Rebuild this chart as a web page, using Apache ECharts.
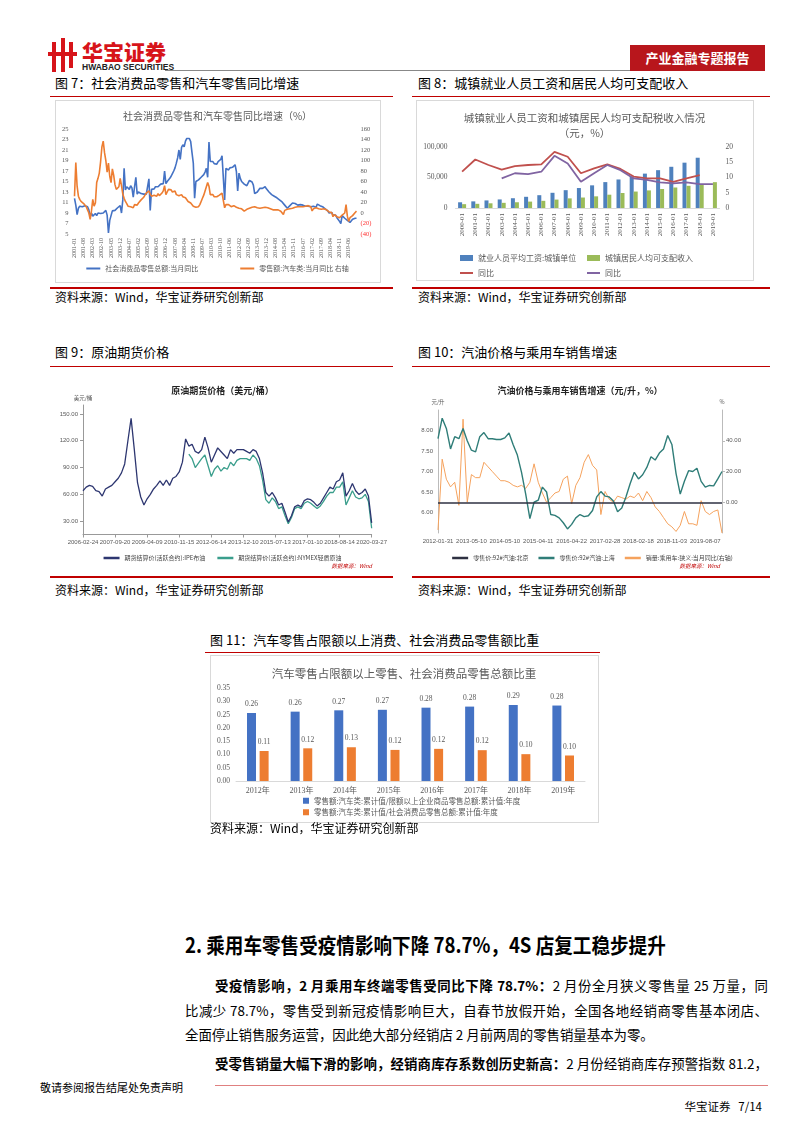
<!DOCTYPE html>
<html><head><meta charset="utf-8">
<script src="https://cdn.jsdelivr.net/npm/echarts@6/dist/echarts.min.js"></script>
<style>
body{margin:0;width:802px;height:1133px;position:relative;background:#fff;font-family:"Noto Sans CJK SC",sans-serif;overflow:hidden;color:#000}
.a{position:absolute;white-space:nowrap}
.ft{font-size:13px;line-height:16px}
.rl{position:absolute;height:1px;background:#c00000}
.rl2{position:absolute;height:2px;background:#c00000}
.src{font-size:12px;line-height:14px}
.box{position:absolute;border:1px solid #d9d9d9;box-sizing:border-box}
.ch{position:absolute}
.p{position:absolute;font-size:13.4px;line-height:20px;white-space:nowrap}
.j{text-align:justify;text-align-last:justify;white-space:normal;height:20px;overflow:visible}
</style></head><body>
<!-- header -->
<div class="a" style="left:52px;top:42px;width:4px;height:30px;background:#d7141a"></div>
<div class="a" style="left:61px;top:38px;width:4px;height:34px;background:#d7141a"></div>
<div class="a" style="left:69px;top:42px;width:4px;height:26px;background:#d7141a"></div>
<div class="a" style="left:48px;top:52px;width:29px;height:4px;background:#d7141a"></div>
<div class="a" style="left:82px;top:38px;font-size:21px;font-weight:900;color:#d7141a;line-height:26px">华宝证券</div>
<div class="a" style="left:82px;top:62px;font-size:8.5px;font-weight:700;color:#222;font-family:'Liberation Sans',sans-serif;line-height:10px">HWABAO SECURITIES</div>
<div class="a" style="left:165px;top:70px;width:465px;height:1px;background:#888"></div>
<div class="a" style="left:630px;top:45px;width:135px;height:26px;background:#b8161c;color:#fff;font-size:13px;font-weight:700;line-height:26px;text-align:center">产业金融专题报告</div>

<!-- row 1 titles -->
<div class="a ft" style="left:55px;top:75px">图 7：社会消费品零售和汽车零售同比增速</div>
<div class="rl" style="left:50px;top:96px;width:343px"></div>
<div class="a ft" style="left:418px;top:75px">图 8：城镇就业人员工资和居民人均可支配收入</div>
<div class="rl" style="left:412px;top:96px;width:358px"></div>
<div class="box" style="left:55px;top:100px;width:326px;height:183px"></div>
<div class="box" style="left:416px;top:100px;width:338px;height:181px"></div>
<div id="c7" class="ch" style="left:55px;top:100px;width:325px;height:182px"></div>
<div id="c8" class="ch" style="left:416px;top:100px;width:337px;height:180px"></div>
<div class="rl2" style="left:50px;top:287px;width:343px"></div>
<div class="rl2" style="left:412px;top:287px;width:358px"></div>
<div class="a src" style="left:55px;top:290px">资料来源：Wind，华宝证券研究创新部</div>
<div class="a src" style="left:418px;top:290px">资料来源：Wind，华宝证券研究创新部</div>

<!-- row 2 -->
<div class="a ft" style="left:55px;top:344px">图 9：原油期货价格</div>
<div class="rl" style="left:50px;top:366px;width:343px"></div>
<div class="a ft" style="left:418px;top:344px">图 10：汽油价格与乘用车销售增速</div>
<div class="rl" style="left:412px;top:366px;width:358px"></div>
<div id="c9" class="ch" style="left:55px;top:370px;width:335px;height:205px"></div>
<div id="c10" class="ch" style="left:415px;top:370px;width:355px;height:205px"></div>
<div class="rl2" style="left:50px;top:576px;width:343px"></div>
<div class="rl2" style="left:412px;top:576px;width:358px"></div>
<div class="a src" style="left:55px;top:583px">资料来源：Wind，华宝证券研究创新部</div>
<div class="a src" style="left:418px;top:583px">资料来源：Wind，华宝证券研究创新部</div>

<!-- row 3 -->
<div class="a ft" style="left:210px;top:632px">图 11：汽车零售占限额以上消费、社会消费品零售额比重</div>
<div class="rl" style="left:205px;top:652px;width:395px"></div>
<div class="box" style="left:210px;top:655px;width:389px;height:168px"></div>
<div id="c11" class="ch" style="left:210px;top:655px;width:388px;height:168px"></div>
<div class="a src" style="left:210px;top:821px">资料来源：Wind，华宝证券研究创新部</div>

<!-- text -->
<div class="a" style="left:185px;top:930px;font-size:21px;font-weight:700;line-height:28px;transform:scaleX(0.885);transform-origin:0 50%">2. 乘用车零售受疫情影响下降 78.7%，4S 店复工稳步提升</div>
<div class="p j" style="left:215px;top:975px;width:553px"><b>受疫情影响，2 月乘用车终端零售受同比下降 78.7%：</b>2 月份全月狭义零售量 25 万量，同</div>
<div class="p j" style="left:185px;top:1000px;width:583px">比减少 78.7%，零售受到新冠疫情影响巨大，自春节放假开始，全国各地经销商零售基本闭店、</div>
<div class="p" style="left:185px;top:1024px">全面停止销售服务运营，因此绝大部分经销店 2 月前两周的零售销量基本为零。</div>
<div class="p j" style="left:215px;top:1053px;width:553px"><b>受零售销量大幅下滑的影响，经销商库存系数创历史新高：</b>2 月份经销商库存预警指数 81.2，</div>

<!-- footer -->
<div class="a" style="left:40px;top:1080px;font-size:11px;line-height:14px">敬请参阅报告结尾处免责声明</div>
<div class="a" style="left:215px;top:1085px;width:553px;height:1px;background:#e08080"></div>
<div class="a" style="left:660px;top:1099px;width:102px;text-align:right;font-size:11.5px;line-height:14px">华宝证券&nbsp;&nbsp;&nbsp;7/14</div>

<script>
// ---------- Figure 7 data ----------
const f7Years = [2001,2002,2003,2004,2005,2006,2007,2008,2009,2010,2011,2012,2013,2014,2015,2016,2017,2018,2019];
const f7NoJanYears = [2006,2007,2008,2009,2010,2011,2012,2013,2014,2015,2016];
const retailYoY = [11.8,10.5,8.7,9.9,10.3,10.5,10.2,10.0,10.4,10.1,
 10.2,9.6,8.3,9.0,8.4,8.6,8.9,8.5,9.0,8.7,
 8.9,9.2,9.0,9.3,9.5,8.6,5.2,7.6,8.5,9.4,
 9.1,9.5,9.6,10.0,10.2,10.4,9.0,11.5,17.5,13.4,
 14.0,14.3,13.5,14.2,13.8,12.0,14.0,15.8,12.6,13.0,
 12.8,12.7,12.5,12.6,12.8,12.6,12.7,15.5,9.5,13.5,
 13.8,13.6,14.0,13.9,14.0,14.2,14.5,14.4,14.6,17.0,
 14.6,15.0,15.3,15.6,16.0,16.5,17.0,17.6,18.5,19.5,
 21.0,19.2,21.5,22.0,21.6,22.7,23.2,23.3,23.2,22.6,
 20.5,18.5,11.8,15.0,15.2,15.3,15.5,15.8,16.0,16.3,
 16.8,17.5,15.8,22.5,18.8,18.5,18.8,18.4,18.7,18.3,
 18.8,18.6,19.2,19.9,20.0,11.5,17.5,17.3,17.2,17.6,
 17.4,17.7,17.6,18.2,16.9,13.2,16.6,15.6,15.0,14.8,
 14.5,14.3,14.2,14.0,15.2,15.5,14.9,14.3,12.7,12.9,
 13.0,13.3,13.7,13.6,13.7,13.8,14.0,13.6,13.4,13.0,
 12.7,12.5,12.4,12.2,12.1,11.9,11.7,11.5,11.4,11.1,
 10.9,10.5,10.3,9.9,10.2,10.4,10.7,10.9,11.1,10.8,
 10.6,10.5,10.7,10.6,10.7,10.5,10.4,10.3,10.5,10.3,
 10.4,10.2,10.0,10.3,10.6,10.1,10.7,11.0,10.4,10.1,
 10.2,9.9,9.8,9.5,9.4,9.0,8.8,9.1,8.6,8.4,
 8.6,8.1,7.8,7.4,7.0,8.5,8.4,8.0,7.8,7.6,
 7.8,7.2,7.5,7.8,7.9,8.0,8.0];
const autoYoY = [32,96,51,32,26,22,20,18,16,12,
 6,0,-12,4,26,13,19,58,66,76,
 98,126,137,115,100,78,95,70,58,84,
 72,54,45,47,50,66,52,36,28,22,
 18,13,10,12,13,10,16,13,15,19,
 22,25,28,30,34,38,41,42,36,32,
 35,34,35,32,37,33,32,38,42,52,
 35,40,45,42,44,40,41,42,35,37,
 33,32,35,31,34,29,26,22,25,19,
 16,13,16,11,10,12,16,22,28,34,
 42,50,58,51,35,32,35,31,29,31,
 32,34,35,38,37,10,16,15,16,13,
 12,14,14,13,11,10,9,8,8,5,
 3.5,5,7,7,9,10,11,12,12,11,
 10,10,9,8,10,12,11,10,10,9,
 8,7,6,5,6,7,6,5,3.5,2,
 -3,5,6,7,7,8,8,9,10,11,
 12,12,13,12,13,12,12,13,14,14,
 16,12,4,8,8,10,9,8,7,7,
 8,8,7,6,7,2,0,1,-7,-3,
 -6,-7,-8,-9,-6,-4,-3,0,16,-6,
 -16,-9,-6,-5,-2,1,3.5];

// ---------- Figure 8 data ----------
const f8Cats = ['2000-01','2001-01','2002-01','2003-01','2004-01','2005-01','2006-01','2007-01','2008-01','2009-01','2010-01','2011-01','2012-01','2013-01','2014-01','2015-01','2016-01','2017-01','2018-01','2019-01'];
const wage = [9371,10870,12422,14040,16024,18364,21001,24932,29229,32736,37147,42452,46769,51483,56360,62029,67569,74318,82413,null];
const income = [6280,6860,7700,8470,9420,10490,11760,13790,15780,17170,19110,21810,24560,26960,28840,31190,33620,36400,39250,42360];
const wageYoY = [11.9,15.9,14.1,12.6,13.7,14.1,14.3,18.4,16.8,11.4,13.0,14.3,12.8,10.3,9.7,9.7,8.6,9.7,10.8,null];
const incomeYoY = [null,null,null,9.7,11.4,11.1,11.9,17.1,14.6,8.6,11.4,14.1,12.4,9.7,9.2,8.4,8.1,8.4,7.8,7.8];

// ---------- Figure 9 data ----------
const f9Ticks = ['2006-02-24','2007-09-20','2009-04-09','2010-11-15','2012-06-14','2013-12-10','2015-07-13','2017-01-10','2018-08-14','2020-03-27'];
const brent = [64,68,70,69,64,63,58,66,68,70,
 74,78,84,94,120,145,110,73,57,48,
 55,60,66,70,75,70,76,70,78,80,
 85,96,122,114,116,108,106,110,124,112,
 96,104,112,108,104,100,110,106,110,110,
 110,108,106,110,108,100,84,62,58,62,
 56,48,50,40,29,36,46,48,46,53,
 55,54,51,47,50,56,62,68,66,74,
 76,84,58,64,72,64,60,62,66,58,
 28];
const wti = [null,null,null,null,null,null,null,null,null,null,
 null,null,null,null,null,null,null,null,null,null,
 null,null,null,null,null,null,null,null,null,null,
 null,null,null,105,100,90,95,100,104,92,
 80,88,92,86,90,88,96,92,98,100,
 100,100,98,104,100,92,76,54,50,56,
 52,44,46,36,27,34,44,46,44,50,
 52,50,47,44,47,52,58,62,62,68,
 68,74,48,56,64,57,55,56,60,52,
 22];

// ---------- Figure 10 data ----------
const f10Ticks = ['2012-01-31','2013-05-10','2014-05-10','2015-04-11','2016-04-22','2017-02-28','2018-02-18','2018-11-03','2019-08-07'];
const gasSH = [7.80,8.30,8.05,7.55,7.85,7.80,8.05,7.75,7.52,7.48,
 7.85,7.95,7.80,7.80,7.78,7.78,7.82,7.94,7.65,7.40,
 6.98,6.45,5.85,6.25,6.30,6.62,6.50,5.95,5.93,5.87,
 5.75,5.60,5.71,5.87,5.95,5.90,5.92,6.05,6.38,6.51,
 6.40,6.38,6.28,6.02,6.11,6.38,6.70,6.98,6.82,6.92,
 7.10,7.36,7.28,7.45,7.55,7.88,7.66,6.95,6.45,6.76,
 7.02,7.00,7.08,6.76,6.62,6.66,6.65,6.82,7.00];
const carSalesYoY = [-18,28,15,10,13,-2,54,0,18,16,
 16,26,23,20,17,14,14,13,11,10,
 11,9,13,25,13,6,0,3,6,7,
 15,17,-1,11,16,26,31,24,21,-8,
 7,2,0,4,3,2,4,3,6,1,
 7,3,-3,-6,-10,-14,-16,-19,-15,-6,
 -14,-14,-15,1,-6,-8,-6,-5,-20];
const gasBJLevel = 0;

// ---------- Figure 11 data ----------
const f11Cats = ['2012年','2013年','2014年','2015年','2016年','2017年','2018年','2019年'];
const shareAbove = [0.256,0.261,0.266,0.268,0.276,0.280,0.286,0.284];
const shareTotal = [0.113,0.123,0.127,0.117,0.121,0.116,0.101,0.096];

// ---------- helpers ----------
const CJK = '"Noto Sans CJK SC", sans-serif';
const SERIF = '"Liberation Serif", "Noto Sans CJK SC", serif';
const SANS = '"Liberation Sans", "Noto Sans CJK SC", sans-serif';
const GRAY = '#595959';

function sparseCats(ticks, step, total) {
  const out = [];
  for (let i = 0; i < total; i++) out.push(i % step === 0 ? ticks[i / step] : 'p' + i);
  return out;
}

// ---------- Figure 7 ----------
const f7Cats = [];
f7Years.forEach(y => { for (let m = 1; m <= 12; m++) { if (m === 1 && f7NoJanYears.includes(y)) continue; f7Cats.push(y + '-' + String(m).padStart(2, '0')); } });
echarts.init(document.getElementById('c7')).setOption({
  animation: false,
  title: { text: '社会消费品零售和汽车零售同比增速（%）', left: 'center', top: 6, textStyle: { fontSize: 10, fontWeight: 'normal', color: GRAY, fontFamily: CJK } },
  grid: { left: 19.5, right: 23.5, top: 29, bottom: 48 },
  legend: { bottom: 5, left: 'center', itemWidth: 14, itemHeight: 2, icon: 'rect', itemGap: 42, textStyle: { fontSize: 7, color: GRAY, fontFamily: CJK } },
  xAxis: { type: 'category', data: f7Cats, boundaryGap: false, axisLine: { show: false }, axisTick: { show: false },
    axisLabel: { interval: 6, rotate: 90, fontSize: 6, color: GRAY, fontFamily: SERIF, margin: 4 } },
  yAxis: [
    { type: 'value', min: 5, max: 25, interval: 2, splitLine: { show: false }, axisLine: { show: false }, axisTick: { show: false }, axisLabel: { fontSize: 6.5, color: GRAY, fontFamily: SERIF, margin: 6 } },
    { type: 'value', min: -40, max: 160, interval: 20, splitLine: { show: false }, axisLine: { show: false }, axisTick: { show: false },
      axisLabel: { fontSize: 6.5, fontFamily: SERIF, margin: 4, color: v => (v < 0 ? '#ff3030' : GRAY), formatter: v => (v < 0 ? '(' + (-v) + ')' : v) } }
  ],
  series: [
    { type: 'line', name: '社会消费品零售总额:当月同比', data: retailYoY, showSymbol: false, lineStyle: { width: 1.6, color: '#4472C4' }, itemStyle: { color: '#4472C4' } },
    { type: 'line', name: '零售额:汽车类:当月同比 右轴', yAxisIndex: 1, data: autoYoY, showSymbol: false, lineStyle: { width: 1.6, color: '#ED7D31' }, itemStyle: { color: '#ED7D31' } }
  ]
});

// ---------- Figure 8 ----------
echarts.init(document.getElementById('c8')).setOption({
  animation: false,
  title: { text: '城镇就业人员工资和城镇居民人均可支配税收入情况\n（元，%）', left: 'center', top: 6, textStyle: { fontSize: 10.5, fontWeight: 'normal', color: GRAY, fontFamily: CJK, lineHeight: 15 } },
  grid: { left: 39.5, right: 33.5, top: 47, bottom: 72 },
  legend: [
    { data: ['就业人员平均工资:城镇单位'], left: 39, top: 149, icon: 'rect', itemWidth: 13, itemHeight: 6, textStyle: { fontSize: 8, color: GRAY, fontFamily: CJK } },
    { data: ['城镇居民人均可支配收入'], left: 166, top: 149, icon: 'rect', itemWidth: 13, itemHeight: 6, textStyle: { fontSize: 8, color: GRAY, fontFamily: CJK } },
    { data: ['同比'], left: 39, top: 164, icon: 'rect', itemWidth: 13, itemHeight: 2, textStyle: { fontSize: 8, color: GRAY, fontFamily: CJK } },
    { data: ['同比 '], left: 166, top: 164, icon: 'rect', itemWidth: 13, itemHeight: 2, textStyle: { fontSize: 8, color: GRAY, fontFamily: CJK } }
  ],
  xAxis: { type: 'category', data: f8Cats, axisLine: { lineStyle: { color: '#d9d9d9' } }, axisTick: { show: false },
    axisLabel: { interval: 0, rotate: 90, fontSize: 7, color: GRAY, fontFamily: SERIF, margin: 5 } },
  yAxis: [
    { type: 'value', min: 0, max: 100000, interval: 50000, splitLine: { show: false }, axisLine: { show: false }, axisTick: { show: false }, axisLabel: { fontSize: 7.5, color: GRAY, fontFamily: SERIF, margin: 8 } },
    { type: 'value', min: 0, max: 20, interval: 5, splitLine: { show: false }, axisLine: { show: false }, axisTick: { show: false }, axisLabel: { fontSize: 7.5, color: GRAY, fontFamily: SERIF, margin: 6 } }
  ],
  series: [
    { type: 'bar', name: '就业人员平均工资:城镇单位', data: wage, barWidth: 4, barGap: '0%', itemStyle: { color: '#4F81BD' } },
    { type: 'bar', name: '城镇居民人均可支配收入', data: income, barWidth: 4, itemStyle: { color: '#9BBB59' } },
    { type: 'line', name: '同比', yAxisIndex: 1, data: wageYoY, showSymbol: false, lineStyle: { width: 1.8, color: '#C0504D' }, itemStyle: { color: '#C0504D' } },
    { type: 'line', name: '同比 ', yAxisIndex: 1, data: incomeYoY, showSymbol: false, lineStyle: { width: 1.8, color: '#8064A2' }, itemStyle: { color: '#8064A2' } }
  ]
});

// ---------- Figure 9 ----------
const f9Cats = sparseCats(f9Ticks, 10, brent.length);
echarts.init(document.getElementById('c9')).setOption({
  animation: false,
  title: { text: '原油期货价格（美元/桶）', left: 'center', top: 11, textStyle: { fontSize: 9, fontWeight: 'bold', color: '#222', fontFamily: CJK } },
  grid: { left: 28, right: 15, top: 35, bottom: 40.5 },
  legend: { data: ['期货结算价(活跃合约):IPE布油', '期货结算价(活跃合约):NYMEX轻质原油'], left: 'center', top: 180, icon: 'rect', itemWidth: 16, itemHeight: 2.5, itemGap: 12, textStyle: { fontSize: 6, color: '#444', fontFamily: CJK } },
  graphic: [{ type: 'text', right: 18, top: 193, style: { text: '数据来源：Wind', fontSize: 5.5, fill: '#c00000', fontStyle: 'italic', fontFamily: CJK } }],
  xAxis: { type: 'category', data: f9Cats, boundaryGap: false, axisLine: { lineStyle: { color: '#999' } },
    axisTick: { interval: 9, length: 3, lineStyle: { color: '#999' } },
    axisLabel: { interval: 9, fontSize: 6, color: GRAY, fontFamily: SANS, margin: 5 } },
  yAxis: { type: 'value', min: 15, max: 160, name: '美元/桶', nameGap: 4, nameTextStyle: { fontSize: 5.5, color: GRAY, fontFamily: CJK },
    splitLine: { show: false }, axisLine: { show: true, lineStyle: { color: '#999' } },
    axisTick: { show: true, length: 3, customValues: [30, 60, 90, 120, 150], lineStyle: { color: '#999' } },
    axisLabel: { customValues: [30, 60, 90, 120, 150], fontSize: 6, color: GRAY, fontFamily: SANS, margin: 5, formatter: v => v.toFixed(2) } },
  series: [
    { type: 'line', name: '期货结算价(活跃合约):NYMEX轻质原油', data: wti, showSymbol: false, z: 2, lineStyle: { width: 1.3, color: '#3a9e8c' }, itemStyle: { color: '#3a9e8c' } },
    { type: 'line', name: '期货结算价(活跃合约):IPE布油', data: brent, showSymbol: false, z: 3, lineStyle: { width: 1.3, color: '#2d3670' }, itemStyle: { color: '#2d3670' } }
  ]
});

// ---------- Figure 10 ----------
const f10Cats = sparseCats(f10Ticks, 8, gasSH.length);
echarts.init(document.getElementById('c10')).setOption({
  animation: false,
  title: { text: '汽油价格与乘用车销售增速（元/升，%）', left: 160, textAlign: 'center', top: 11, textStyle: { fontSize: 9, fontWeight: 'bold', color: '#222', fontFamily: CJK } },
  grid: { left: 23, right: 48, top: 40, bottom: 42 },
  legend: { data: ['零售价:92#汽油:北京', '零售价:92#汽油:上海', '销量:乘用车:狭义:当月同比(右轴)'], left: 'center', top: 180, icon: 'rect', itemWidth: 16, itemHeight: 2.5, itemGap: 10, textStyle: { fontSize: 6, color: '#444', fontFamily: CJK } },
  graphic: [{ type: 'text', right: 50, top: 193, style: { text: '数据来源：Wind', fontSize: 5.5, fill: '#c00000', fontStyle: 'italic', fontFamily: CJK } }],
  xAxis: { type: 'category', data: f10Cats, boundaryGap: false, axisLine: { show: false }, axisTick: { show: false },
    axisLabel: { interval: 7, fontSize: 6, color: GRAY, fontFamily: SANS, margin: 5 } },
  yAxis: [
    { type: 'value', min: 5.5, max: 8.5, name: '元/升', nameGap: 5, nameTextStyle: { fontSize: 5.5, color: GRAY, fontFamily: CJK },
      splitLine: { show: false }, axisLine: { show: true, lineStyle: { color: '#bbb' } }, axisTick: { show: false },
      axisLabel: { customValues: [6, 6.5, 7, 7.5, 8], fontSize: 6, color: GRAY, fontFamily: SANS, margin: 5, formatter: v => v.toFixed(2) } },
    { type: 'value', min: -20, max: 60, name: '%', nameGap: 5, nameTextStyle: { fontSize: 5.5, color: GRAY, fontFamily: CJK },
      splitLine: { show: false }, axisLine: { show: true, lineStyle: { color: '#bbb' } },
      axisTick: { show: true, length: 3, customValues: [0, 20, 40], lineStyle: { color: '#bbb' } },
      axisLabel: { customValues: [0, 20, 40], fontSize: 6, color: GRAY, fontFamily: SANS, margin: 4, formatter: v => v.toFixed(2) } }
  ],
  series: [
    { type: 'line', name: '销量:乘用车:狭义:当月同比(右轴)', yAxisIndex: 1, data: carSalesYoY, showSymbol: false, z: 2, lineStyle: { width: 1, color: '#f5a25d' }, itemStyle: { color: '#f5a25d' } },
    { type: 'line', name: '零售价:92#汽油:上海', data: gasSH, showSymbol: false, z: 3, lineStyle: { width: 1.4, color: '#2f7d78' }, itemStyle: { color: '#2f7d78' } },
    { type: 'line', name: '零售价:92#汽油:北京', yAxisIndex: 1, data: [], showSymbol: false, z: 4, itemStyle: { color: '#2e3142' }, lineStyle: { color: '#2e3142' },
      markLine: { silent: true, symbol: 'none', label: { show: false }, lineStyle: { color: '#2e3142', width: 1.6, type: 'solid' }, data: [{ yAxis: gasBJLevel }] } }
  ]
});

// ---------- Figure 11 ----------
echarts.init(document.getElementById('c11')).setOption({
  animation: false,
  title: { text: '汽车零售占限额以上零售、社会消费品零售总额比重', left: 'center', top: 8, textStyle: { fontSize: 11.5, fontWeight: 'normal', color: GRAY, fontFamily: CJK } },
  grid: { left: 26, right: 13, top: 33, bottom: 42 },
  legend: { orient: 'vertical', left: 88, top: 137, icon: 'rect', itemWidth: 6, itemHeight: 6, itemGap: 4, textStyle: { fontSize: 7.5, color: GRAY, fontFamily: CJK } },
  xAxis: { type: 'category', data: f11Cats, axisLine: { lineStyle: { color: '#d9d9d9' } }, axisTick: { show: false },
    axisLabel: { fontSize: 8, color: GRAY, fontFamily: SERIF, margin: 6 } },
  yAxis: { type: 'value', min: 0, max: 0.35, interval: 0.05, splitLine: { show: false }, axisLine: { show: false }, axisTick: { show: false },
    axisLabel: { fontSize: 7.5, color: GRAY, fontFamily: SERIF, margin: 6, formatter: v => v.toFixed(2) } },
  series: [
    { type: 'bar', name: '零售额:汽车类:累计值/限额以上企业商品零售总额:累计值:年度', data: shareAbove, barWidth: 9, barGap: '40%', itemStyle: { color: '#4472C4' },
      label: { show: true, position: 'top', fontSize: 7.5, color: GRAY, fontFamily: SERIF, formatter: p => p.value.toFixed(2) } },
    { type: 'bar', name: '零售额:汽车类:累计值/社会消费品零售总额:累计值:年度', data: shareTotal, barWidth: 9, itemStyle: { color: '#ED7D31' },
      label: { show: true, position: 'top', fontSize: 7.5, color: GRAY, fontFamily: SERIF, formatter: p => p.value.toFixed(2) } }
  ]
});
</script>
</body></html>
